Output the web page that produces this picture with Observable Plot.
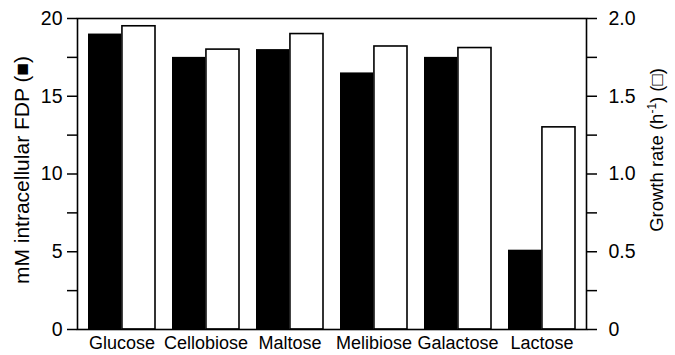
<!DOCTYPE html>
<html>
<head>
<meta charset="utf-8">
<script src="https://cdn.jsdelivr.net/npm/d3@7"></script>
<script src="https://cdn.jsdelivr.net/npm/@observablehq/plot@0.6"></script>
<style>
  html, body { margin: 0; padding: 0; background: #fff; }
  #chart { width: 675px; height: 355px; }
</style>
</head>
<body>
<div id="chart"></div>
<script>
// ---- data ----
const categories = ["Glucose", "Cellobiose", "Maltose", "Melibiose", "Galactose", "Lactose"];
const fdpValues = [19.0, 17.5, 18.0, 16.5, 17.5, 5.1];          // mM intracellular FDP (black)
const growthValues = [1.95, 1.80, 1.90, 1.82, 1.81, 1.30];      // growth rate h^-1 (white)
const fdpTicks = [0, 5, 10, 15, 20];
const fdpMinorTicks = [2.5, 7.5, 12.5, 17.5];
const growthTicks = [0, 0.5, 1.0, 1.5, 2.0];
const growthTickLabels = ["0", "0.5", "1.0", "1.5", "2.0"];
const growthMinorTicks = [0.25, 0.75, 1.25, 1.75];
const fdpMax = 20;
const growthMax = 2.0;
const leftTitle = "mM intracellular FDP (\u25A0)";
const rightTitle = "Growth rate (h-1) (\u25A1)";

// ---- layout ----
const width = 675, height = 355;
const ml = 77, mr = 89, mt = 18, mb = 26;
const padInner = 0.2, padOuter = 0.1;
const ratio = fdpMax / growthMax;
const step = (width - ml - mr) / (categories.length - padInner + 2 * padOuter);
const half = step * (1 - padInner) / 2;

const data = categories.map((c, i) => ({
  category: c,
  fdp: fdpValues[i],
  growth: growthValues[i] * ratio
}));

const growthLabel = d => {
  const i = growthTicks.findIndex(g => Math.abs(g * ratio - d) < 1e-9);
  return i >= 0 ? growthTickLabels[i] : "";
};

const chart = Plot.plot({
  width, height,
  marginLeft: ml, marginRight: mr, marginTop: mt, marginBottom: mb,
  style: { fontFamily: "'Liberation Sans', Arial, sans-serif", fontSize: "18px", color: "black", background: "white" },
  x: { domain: categories, paddingInner: padInner, paddingOuter: padOuter, label: null },
  y: { domain: [0, fdpMax], label: null },
  marks: [
    Plot.barY(data, { x: "category", y: "fdp", fill: "black", insetRight: half }),
    Plot.barY(data, { x: "category", y: "growth", fill: "white", stroke: "black", strokeWidth: 1.6, insetLeft: half }),
    Plot.axisX({ tickSize: 0, tickPadding: 7, label: null, fontSize: 18 }),
    Plot.axisY(fdpTicks, { anchor: "left", tickSize: 10, tickPadding: 5, strokeWidth: 1.5, label: null, fontSize: 19.5 }),
    Plot.axisY(fdpMinorTicks, { anchor: "left", tickSize: 10, strokeWidth: 1.5, tickFormat: () => "", label: null }),
    Plot.axisY(growthTicks.map(g => g * ratio), { anchor: "right", tickSize: 10, tickPadding: 12, strokeWidth: 1.5, tickFormat: growthLabel, label: null, fontSize: 19.5 }),
    Plot.axisY(growthMinorTicks.map(g => g * ratio), { anchor: "right", tickSize: 10, strokeWidth: 1.5, tickFormat: () => "", label: null }),
    Plot.frame({ stroke: "black", strokeWidth: 1.6 }),
    Plot.text([leftTitle], { text: d => d, frameAnchor: "left", textAnchor: "middle", lineAnchor: "middle", rotate: -90, dx: -55, dy: -4, fontSize: 21, fill: "black" }),
    Plot.text([rightTitle], { text: d => d, frameAnchor: "right", textAnchor: "middle", lineAnchor: "middle", rotate: -90, dx: 71, dy: -24, fontSize: 18.5, fill: "black" })
  ]
});

document.getElementById("chart").appendChild(chart);

// superscript for h^-1
chart.querySelectorAll("text").forEach(t => {
  if (t.textContent === rightTitle) {
    const ns = "http://www.w3.org/2000/svg";
    const parts = rightTitle.split("h-1");
    t.textContent = "";
    const a = document.createElementNS(ns, "tspan"); a.textContent = parts[0] + "h"; t.appendChild(a);
    const b = document.createElementNS(ns, "tspan"); b.textContent = "-1"; b.setAttribute("dy", "-7"); b.setAttribute("font-size", "12"); t.appendChild(b);
    const c = document.createElementNS(ns, "tspan"); c.textContent = parts[1]; c.setAttribute("dy", "7"); t.appendChild(c);
  }
});
</script>
</body>
</html>
